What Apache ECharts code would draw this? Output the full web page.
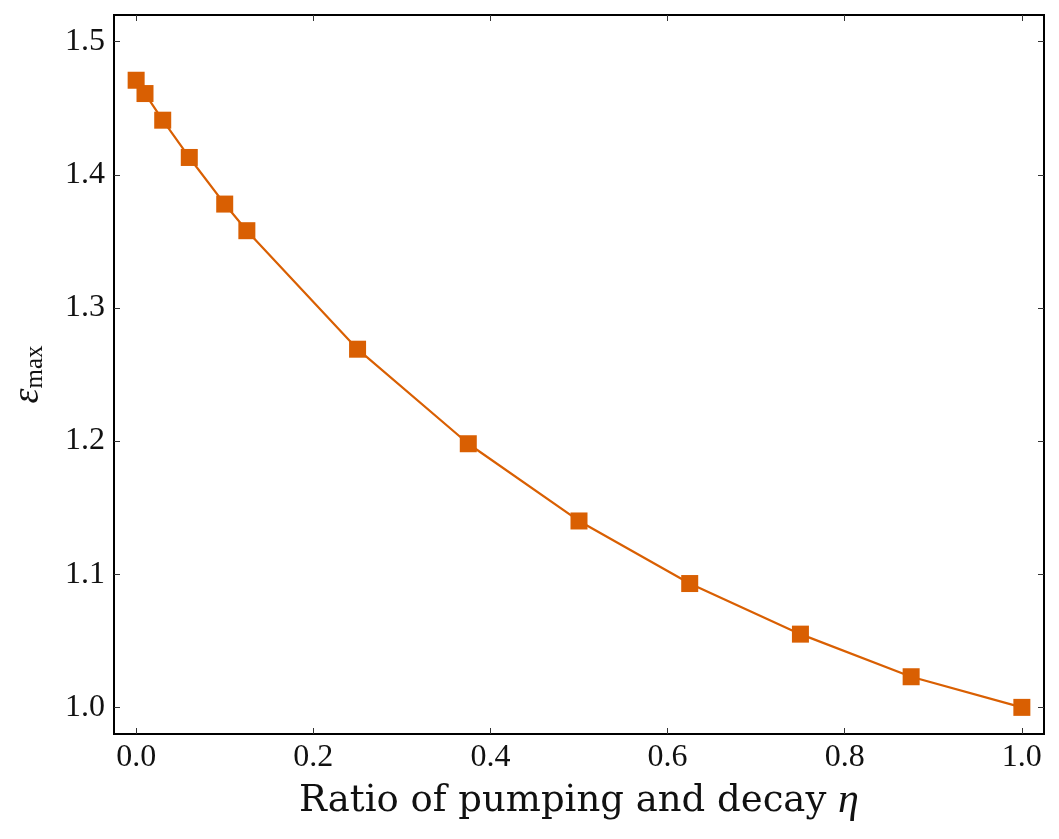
<!DOCTYPE html>
<html>
<head>
<meta charset="utf-8">
<script src="https://cdn.jsdelivr.net/npm/echarts@6/dist/echarts.min.js"></script>
<style>
  html, body { margin: 0; padding: 0; background: #fff; }
  #chart { width: 1059px; height: 839px; }
</style>
</head>
<body>
<div id="chart"></div>
<script>
// ratio of pumping and decay (eta) and the max epsilon read at each point
var etaValues = [0, 0.01, 0.03, 0.06, 0.1, 0.125, 0.25, 0.375, 0.5, 0.625, 0.75, 0.875, 1.0];
var epsMax = [1.471, 1.461, 1.441, 1.413, 1.378, 1.358, 1.269, 1.198, 1.140, 1.093, 1.055, 1.023, 1.000];

var xTicks = [0.0, 0.2, 0.4, 0.6, 0.8, 1.0];
var yTicks = [1.0, 1.1, 1.2, 1.3, 1.4, 1.5];

var serif = '"Liberation Serif", "DejaVu Serif", serif';
var wideSerif = '"DejaVu Serif", "Liberation Serif", serif';
var orange = '#d95f02';

var points = etaValues.map(function (x, i) { return [x, epsMax[i]]; });

function ticks(vals) {
  return { show: true, inside: true, length: 6, customValues: vals, lineStyle: { color: '#333', width: 1 } };
}

function tickAxis(extra) {
  var base = {
    axisLine: { show: false, onZero: false },
    splitLine: { show: false },
    axisLabel: { show: false }
  };
  return Object.assign(base, extra);
}

var chart = echarts.init(document.getElementById('chart'));
chart.setOption({
  animation: false,
  grid: {
    left: 114, right: 15, top: 15, bottom: 105,
    show: true, borderColor: '#000', borderWidth: 2, backgroundColor: 'transparent'
  },
  xAxis: [
    tickAxis({
      type: 'value', min: -0.025, max: 1.025, position: 'bottom',
      axisTick: ticks(xTicks),
      axisLabel: {
        show: true, customValues: xTicks, margin: 8,
        fontFamily: serif, fontSize: 32, color: '#111',
        formatter: function (v) { return v.toFixed(1); }
      },
      name: 'Ratio of pumping and decay {i|η}',
      nameLocation: 'middle', nameGap: 46,
      nameTextStyle: {
        fontFamily: wideSerif, fontSize: 37, color: '#111',
        rich: { i: { fontFamily: serif, fontSize: 42, fontStyle: 'italic', color: '#111' } }
      }
    }),
    tickAxis({
      type: 'value', min: -0.025, max: 1.025, position: 'top',
      axisTick: ticks(xTicks)
    })
  ],
  yAxis: [
    tickAxis({
      type: 'value', min: 0.98, max: 1.52, position: 'left',
      axisTick: ticks(yTicks),
      axisLabel: {
        show: true, customValues: yTicks, margin: 9,
        fontFamily: serif, fontSize: 32, color: '#111',
        formatter: function (v) { return v.toFixed(1); }
      },
      name: '{e|ε}{s|max}',
      nameLocation: 'middle', nameGap: 66, nameRotate: 90,
      nameTextStyle: {
        fontFamily: serif, color: '#111',
        rich: {
          e: { fontFamily: serif, fontSize: 38, fontStyle: 'italic', color: '#111' },
          s: { fontFamily: serif, fontSize: 25, color: '#111', verticalAlign: 'bottom', padding: [14, 0, 0, 0] }
        }
      }
    }),
    tickAxis({
      type: 'value', min: 0.98, max: 1.52, position: 'right',
      axisTick: ticks(yTicks)
    })
  ],
  series: [{
    type: 'line',
    data: points,
    xAxisIndex: 0, yAxisIndex: 0,
    symbol: 'rect', symbolSize: 17,
    lineStyle: { color: orange, width: 2.2 },
    itemStyle: { color: orange },
    z: 3
  }]
});
</script>
</body>
</html>
